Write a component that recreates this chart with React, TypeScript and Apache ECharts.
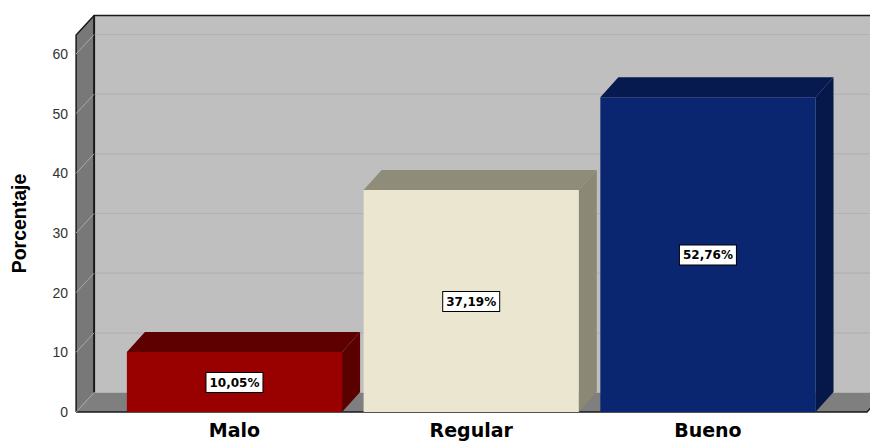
import React, { useEffect, useRef } from "react";
import * as echarts from "echarts";

const categories = ["Malo", "Regular", "Bueno"];
const percentages = [10.05, 37.19, 52.76];
const frontColors = ["#990000", "#ebe6cf", "#0a2670"];
const topColors = ["#5e0000", "#8f8c7a", "#071a4f"];
const sideColors = ["#5a0000", "#8b8876", "#06184a"];
const gridValues = [0, 10, 20, 30, 40, 50, 60];

const axisTop = 63.18;
const axisTitle = "Porcentaje";

// Depth of the extruded room and of the bars, in pixels.
const wallDx = 18;
const wallDy = 19.5;
const barDx = 18;
const barDy = 20;
const barRatio = 0.909;
const wallInset = 40;
const frontRight = 867;

const formatPercent = (v: number) => v.toFixed(2).replace(".", ",") + "%";

export default function App() {
  const ref = useRef<HTMLDivElement>(null);

  useEffect(() => {
    const chart = echarts.init(ref.current!, undefined, { renderer: "svg" });

    // Back wall, side wall and floor of the 3D room.
    const renderRoom = (params: any) => {
      const s = params.coordSys;
      const left = s.x - wallInset;
      const top = s.y;
      const bottom = s.y + s.height;
      const edge = { stroke: "#1a1a1a", lineWidth: 1.5 };
      return {
        type: "group",
        children: [
          {
            type: "rect",
            shape: { x: left + wallDx, y: top - wallDy, width: 900, height: s.height },
            style: { fill: "#bfbfbf" },
          },
          {
            type: "polygon",
            shape: {
              points: [
                [left, top],
                [left + wallDx, top - wallDy],
                [left + wallDx, bottom - wallDy],
                [left, bottom],
              ],
            },
            style: { fill: "#787878" },
          },
          {
            type: "polygon",
            shape: {
              points: [
                [left, bottom],
                [left + wallDx, bottom - wallDy],
                [frontRight + wallDx, bottom - wallDy],
                [frontRight, bottom],
              ],
            },
            style: { fill: "#7f7f7f" },
          },
          {
            type: "polyline",
            shape: {
              points: [
                [left, bottom],
                [left, top],
                [left + wallDx, top - wallDy],
                [900, top - wallDy],
              ],
            },
            style: { ...edge, fill: "none" },
          },
          {
            type: "line",
            shape: { x1: left + wallDx, y1: top - wallDy, x2: left + wallDx, y2: bottom - wallDy },
            style: { stroke: "#1a1a1a", lineWidth: 2 },
          },
          {
            type: "polyline",
            shape: {
              points: [
                [left, bottom],
                [frontRight, bottom],
                [frontRight + wallDx, bottom - wallDy],
              ],
            },
            style: { ...edge, fill: "none" },
          },
        ],
      };
    };

    // Grid lines run along the side wall and then across the back wall.
    const renderGridLine = (params: any, api: any) => {
      const s = params.coordSys;
      const left = s.x - wallInset;
      const y = api.coord([0, api.value(0)])[1];
      return {
        type: "group",
        children: [
          {
            type: "line",
            shape: { x1: left, y1: y, x2: left + wallDx, y2: y - wallDy },
            style: { stroke: "#a8a8a8", lineWidth: 1 },
          },
          {
            type: "line",
            shape: { x1: left + wallDx + 1, y1: y - wallDy, x2: 900, y2: y - wallDy },
            style: { stroke: "#b2b2b2", lineWidth: 1.2 },
          },
        ],
      };
    };

    const renderBar = (params: any, api: any) => {
      const i = api.value(0);
      const value = api.value(1);
      const [cx, yTop] = api.coord([i, value]);
      const yBase = api.coord([i, 0])[1];
      const width = api.size([1, 0])[0] * barRatio;
      const x0 = cx - width / 2;
      const x1 = cx + width / 2;
      return {
        type: "group",
        children: [
          {
            type: "polygon",
            shape: {
              points: [
                [x0, yTop],
                [x0 + barDx, yTop - barDy],
                [x1 + barDx, yTop - barDy],
                [x1, yTop],
              ],
            },
            style: { fill: topColors[i] },
          },
          {
            type: "polygon",
            shape: {
              points: [
                [x1, yTop],
                [x1 + barDx, yTop - barDy],
                [x1 + barDx, yBase - barDy],
                [x1, yBase],
              ],
            },
            style: { fill: sideColors[i] },
          },
          {
            type: "rect",
            shape: { x: x0, y: yTop, width, height: yBase - yTop },
            style: { fill: frontColors[i] },
          },
          {
            type: "text",
            x: cx,
            y: (yTop + yBase) / 2 + 0.5,
            style: {
              text: formatPercent(value),
              align: "center",
              verticalAlign: "middle",
              fill: "#000000",
              font: 'bold 12px "DejaVu Sans"',
              backgroundColor: "#ffffff",
              borderColor: "#000000",
              borderWidth: 1,
              padding: [4, 3, 3, 3],
            },
          },
        ],
      };
    };

    chart.setOption({
      animation: false,
      grid: { left: 116.1, top: 35, width: 710.2, height: 377 },
      xAxis: {
        type: "category",
        data: categories,
        axisLine: { show: false },
        axisTick: { show: false },
        splitLine: { show: false },
        axisLabel: {
          margin: 8,
          color: "#000000",
          fontFamily: "DejaVu Sans",
          fontWeight: "bold",
          fontSize: 19,
        },
      },
      yAxis: {
        type: "value",
        min: 0,
        max: axisTop,
        interval: 10,
        offset: wallInset,
        name: axisTitle,
        nameLocation: "middle",
        nameGap: 47,
        nameTextStyle: {
          color: "#000000",
          fontFamily: "Liberation Sans",
          fontWeight: "bold",
          fontSize: 19.5,
        },
        axisLine: { show: false },
        axisTick: { show: false },
        splitLine: { show: false },
        axisLabel: {
          margin: 8,
          padding: [4, 0, 0, 0],
          showMaxLabel: false,
          color: "#333333",
          fontFamily: "Liberation Sans",
          fontSize: 14,
        },
      },
      series: [
        { type: "custom", z: 1, silent: true, renderItem: renderRoom, data: [0] },
        {
          type: "custom",
          z: 2,
          silent: true,
          renderItem: renderGridLine,
          encode: { y: 0 },
          data: gridValues.map((v) => [v]),
        },
        {
          type: "custom",
          z: 3,
          silent: true,
          renderItem: renderBar,
          encode: { x: 0, y: 1 },
          data: percentages.map((v, i) => [i, v]),
        },
      ],
    });

    return () => chart.dispose();
  }, []);

  return (
    <div
      ref={ref}
      style={{ position: "fixed", left: 0, top: 0, width: 870, height: 441, background: "#ffffff" }}
    />
  );
}
